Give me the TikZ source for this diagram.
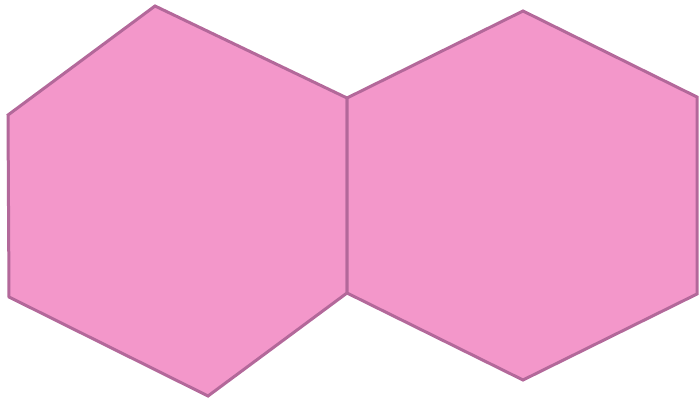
\documentclass[tikz,border=0pt]{standalone}
\definecolor{hexfill}{HTML}{F397CA}
\definecolor{hexline}{HTML}{B3689A}
\tikzset{hexagon/.style={fill=hexfill,draw=hexline,line width=3pt,line join=miter}}
\begin{document}
\begin{tikzpicture}[x=1pt,y=-1pt]
\useasboundingbox (0,0) rectangle (700,401);
\draw[hexagon] (155,6) -- (347,98) -- (347,293) -- (208,396) -- (9,297) -- (8,115) -- cycle;
\draw[hexagon] (347,98) -- (523,11) -- (697,97) -- (697,294) -- (523,380) -- (347,293) -- cycle;
\end{tikzpicture}
\end{document}
